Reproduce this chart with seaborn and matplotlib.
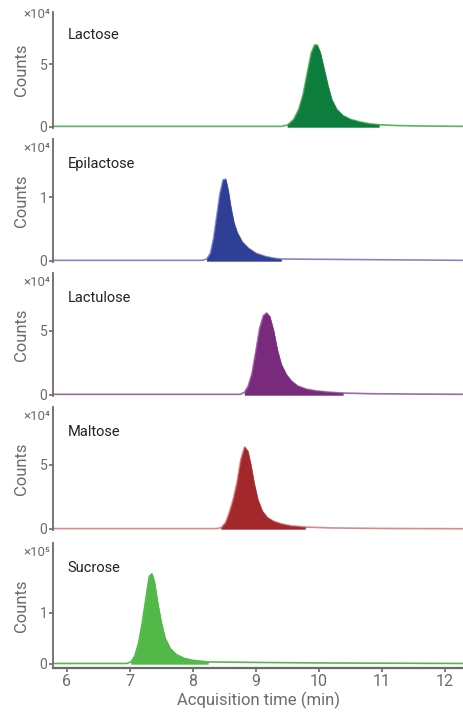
import numpy as np
import pandas as pd
import seaborn as sns
import matplotlib.pyplot as plt

# chromatogram traces (time in min, counts in units of the panel's multiplier)
lactose_t = [5.8, 9.40, 9.50, 9.60, 9.68, 9.75, 9.82, 9.88, 9.93, 9.97, 10.02, 10.08, 10.14,
             10.20, 10.28, 10.38, 10.50, 10.65, 10.80, 10.95, 11.2, 11.6, 12.3]
lactose_y = [0.05, 0.05, 0.15, 0.6, 1.4, 2.6, 4.4, 5.9, 6.5, 6.5, 5.9, 4.6, 3.3,
             2.2, 1.4, 0.9, 0.6, 0.4, 0.25, 0.18, 0.12, 0.08, 0.05]

epilactose_t = [5.8, 8.15, 8.22, 8.28, 8.33, 8.38, 8.43, 8.48, 8.52, 8.56, 8.60, 8.65, 8.70,
                8.78, 8.88, 9.00, 9.15, 9.30, 9.40, 9.50, 12.3]
epilactose_y = [0.01, 0.01, 0.03, 0.12, 0.35, 0.7, 1.05, 1.27, 1.28, 1.1, 0.85, 0.6, 0.45,
                0.3, 0.2, 0.12, 0.07, 0.04, 0.03, 0.03, 0.01]

lactulose_t = [5.8, 8.75, 8.82, 8.88, 8.94, 9.00, 9.06, 9.12, 9.17, 9.22, 9.28, 9.34, 9.40,
               9.48, 9.56, 9.66, 9.80, 9.95, 10.15, 10.38, 10.8, 11.5, 12.3]
lactulose_y = [0.05, 0.05, 0.2, 0.7, 1.7, 3.4, 5.2, 6.2, 6.4, 6.1, 5.0, 3.5, 2.4,
               1.6, 1.1, 0.7, 0.45, 0.32, 0.22, 0.15, 0.1, 0.07, 0.05]

maltose_t = [5.8, 8.38, 8.45, 8.52, 8.58, 8.64, 8.70, 8.76, 8.82, 8.87, 8.92, 8.97, 9.03,
             9.10, 9.18, 9.28, 9.40, 9.55, 9.78, 10.2, 11.0, 12.3]
maltose_y = [0.03, 0.03, 0.1, 0.5, 1.3, 2.3, 3.6, 5.4, 6.4, 6.1, 5.0, 3.6, 2.3,
             1.4, 0.9, 0.6, 0.4, 0.25, 0.15, 0.08, 0.04, 0.02]

sucrose_t = [5.8, 6.95, 7.02, 7.08, 7.14, 7.20, 7.26, 7.31, 7.35, 7.39, 7.44, 7.50, 7.56,
             7.64, 7.74, 7.86, 8.00, 8.24, 9.0, 10.0, 12.3]
sucrose_y = [0.01, 0.01, 0.04, 0.15, 0.4, 0.8, 1.3, 1.7, 1.75, 1.6, 1.2, 0.8, 0.5,
             0.3, 0.18, 0.11, 0.07, 0.04, 0.03, 0.02, 0.01]

names = ["Lactose", "Epilactose", "Lactulose", "Maltose", "Sucrose"]
exponents = ["⁴", "⁴", "⁴", "⁴", "⁵"]
yticks = [[0, 5], [0, 1], [0, 5], [0, 5], [0, 1]]
windows = [(9.47, 10.95), (8.20, 9.40), (8.77, 10.38), (8.40, 9.78), (6.98, 8.24)]
times = [lactose_t, epilactose_t, lactulose_t, maltose_t, sucrose_t]
counts = [lactose_y, epilactose_y, lactulose_y, maltose_y, sucrose_y]

fill_colors = ["#0c7d3c", "#2f3f96", "#7a2a7c", "#a3282c", "#52b848"]
line_colors = ["#5cb25c", "#8187c6", "#9c6aa4", "#d68a8a", "#52b848"]
ylims = [(-0.08, 9.13), (-0.016, 1.91), (-0.08, 9.53), (-0.08, 9.53), (-0.078, 2.35)]
# panel extents in pixels (top, bottom)
panels_px = [(12, 128), (139, 262), (273, 396), (407, 530), (543, 668)]

sns.set_theme(style="ticks")
plt.rcParams["font.family"] = ["Roboto", "DejaVu Sans"]
grey = "#6b6b6b"

W, H = 464, 715
fig = plt.figure(figsize=(W / 100, H / 100), dpi=100)

for i, name in enumerate(names):
    top, bot = panels_px[i]
    ax = fig.add_axes([53 / W, 1 - bot / H, 1 - 53 / W, (bot - top) / H])
    df = pd.DataFrame({"t": times[i], "y": counts[i]})
    sns.lineplot(data=df, x="t", y="y", ax=ax, color=line_colors[i], lw=1.2)
    lo, hi = windows[i]
    sub = df[(df["t"] >= lo) & (df["t"] <= hi)]
    ax.fill_between(sub["t"], 0, sub["y"], color=fill_colors[i], lw=0.3,
                    edgecolor=fill_colors[i], zorder=3)
    ax.set_xlim(5.783, 12.3)
    ax.set_ylim(*ylims[i])
    ax.set_yticks(yticks[i])
    ax.set_ylabel("Counts", fontsize=12, color=grey, labelpad=8)
    ax.tick_params(axis="y", colors=grey, labelcolor=grey, labelsize=10, length=3, width=1.2, pad=1)
    for s in ["top", "right"]:
        ax.spines[s].set_visible(False)
    ax.spines["left"].set_color(grey)
    ax.spines["left"].set_linewidth(1.3)
    # multiplier label, placed in pixels
    ytxt = 8 if i == 0 else top + 3
    fig.text(50 / W, 1 - ytxt / H, "×10" + exponents[i], ha="right", va="top",
             fontsize=9.5, color=grey)
    ax.text(0.036, 0.80 if i == 0 else 0.80, name, transform=ax.transAxes,
            ha="left", va="center", fontsize=10.5, color="#222222")
    if i < len(names) - 1:
        ax.spines["bottom"].set_visible(False)
        ax.set_xticks([])
        ax.set_xlabel("")
    else:
        ax.spines["bottom"].set_color(grey)
        ax.spines["bottom"].set_linewidth(1.6)
        ax.set_xticks(range(6, 13))
        ax.tick_params(axis="x", colors=grey, labelcolor=grey, labelsize=11.5, length=3, width=1.2, pad=1)
        ax.set_xlabel("Acquisition time (min)", fontsize=12, color=grey, labelpad=2)

fig.savefig("out.png", dpi=100)
